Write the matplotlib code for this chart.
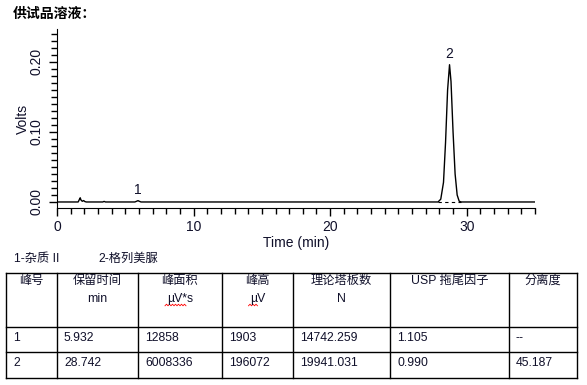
import numpy as np
import matplotlib.pyplot as plt
from matplotlib.ticker import MultipleLocator

plt.rcParams['font.family'] = ['Liberation Sans', 'Noto Sans CJK SC', 'DejaVu Sans']

# chromatogram trace (min, V)
time = [0.0, 1.55, 1.65, 1.7, 1.75, 1.85, 1.95, 2.05, 2.15, 3.35, 3.45, 3.55,
        5.7, 5.85, 5.932, 6.0, 6.15, 27.9, 28.1, 28.3, 28.45, 28.6, 28.742,
        28.85, 29.0, 29.15, 29.3, 29.45, 29.6, 35.0]
volts = [0.0, 0.0, 0.004, 0.006, 0.003, 0.001, 0.002, 0.0005, 0.0, 0.0, 0.0008, 0.0,
         0.0, 0.0012, 0.0019, 0.0012, 0.0, 0.0, 0.004, 0.028, 0.085, 0.160, 0.196,
         0.172, 0.100, 0.040, 0.010, 0.001, 0.0, 0.0]

peak_ids = ['1', '2']
peak_rt = [5.932, 28.742]
peak_h = [0.0019, 0.196]
peak_base = [(27.9, 29.6)]  # dashed baseline under peak 2

legend_items = ['1-杂质 II', '2-格列美脲']

headers = [('峰号', ''), ('保留时间', 'min'), ('峰面积', 'µV*s'), ('峰高', 'µV'),
           ('理论塔板数', 'N'), ('USP 拖尾因子', ''), ('分离度', '')]
rows = [['1', '5.932', '12858', '1903', '14742.259', '1.105', '--'],
        ['2', '28.742', '6008336', '196072', '19941.031', '0.990', '45.187']]

W, H = 587, 385
fig = plt.figure(figsize=(W / 100, H / 100), dpi=100)
ink = '#10102a'
fs = 8.8

def px(x, y):
    return x / W, 1 - y / H

# chart
l, b = px(57, 208)
r, t = px(535, 29)
ax = fig.add_axes([l, b, r - l, t - b])
ax.plot(time, volts, color='black', lw=1.0)
for x0, x1 in peak_base:
    ax.plot([x0, x1], [0, 0], color='black', lw=0.8, ls=(0, (3, 3)))
for pid, rt, h in zip(peak_ids, peak_rt, peak_h):
    ax.text(rt, h + 0.005, pid, ha='center', va='bottom', fontsize=10, color=ink)
ax.set_xlim(0, 35)
ax.set_ylim(-0.0086, 0.247)
ax.spines['top'].set_visible(False)
ax.spines['right'].set_visible(False)
ax.xaxis.set_major_locator(MultipleLocator(10))
ax.xaxis.set_minor_locator(MultipleLocator(1))
ax.yaxis.set_major_locator(MultipleLocator(0.1))
ax.yaxis.set_minor_locator(MultipleLocator(0.01))
ax.yaxis.set_major_formatter(lambda v, p: '%.2f' % v)
ax.tick_params(which='major', length=6, width=1, labelsize=10, labelcolor=ink)
ax.tick_params(which='minor', length=4, width=1)
ax.tick_params(axis='x', pad=3)
for lab in ax.get_yticklabels():
    lab.set_rotation(90)
    lab.set_va('center')
ax.set_xlabel('Time (min)', fontsize=10, color=ink, labelpad=1)
ax.set_ylabel('Volts', fontsize=10, color=ink, labelpad=0)

fig.text(*px(13, 14), '供试品溶液：', fontsize=10, fontweight='bold',
         family=['Noto Sans CJK SC'], va='center', ha='left')

# legend line
for x, s in zip([14, 98], legend_items):
    fig.text(*px(x, 259), s, fontsize=fs, color=ink, va='center', ha='left')

# table
cols = [6, 57, 138, 222, 293, 390, 509, 577]
hlines = [273, 327, 352, 378]
tab = fig.add_axes([0, 0, 1, 1], facecolor='none')
tab.set_xlim(0, W)
tab.set_ylim(H, 0)
tab.axis('off')
for y in hlines:
    tab.plot([cols[0], cols[-1]], [y, y], color='black', lw=1)
for x in cols:
    tab.plot([x, x], [hlines[0], hlines[-1]], color='black', lw=1)
for i, (h1, h2) in enumerate(headers):
    cx = (cols[i] + cols[i + 1]) / 2
    tab.text(cx, 281, h1, ha='center', va='center', fontsize=fs, color=ink)
    if h2:
        tab.text(cx, 299, h2, ha='center', va='center', fontsize=fs, color=ink)
        if 'V' in h2:
            w = 24 if '*' in h2 else 12
            zx = np.arange(cx - w / 2 - 3, cx + w / 2 - 5, 1.5)
            zy = 305 + 0.8 * (-1) ** np.arange(len(zx))
            tab.plot(zx, zy, color='red', lw=0.6)
for j, (row, y) in enumerate(zip(rows, [338, 363])):
    for i, s in enumerate(row):
        tab.text(cols[i] + 7, y, s, ha='left', va='center', fontsize=fs, color=ink)

fig.savefig('out.png', dpi=100)
